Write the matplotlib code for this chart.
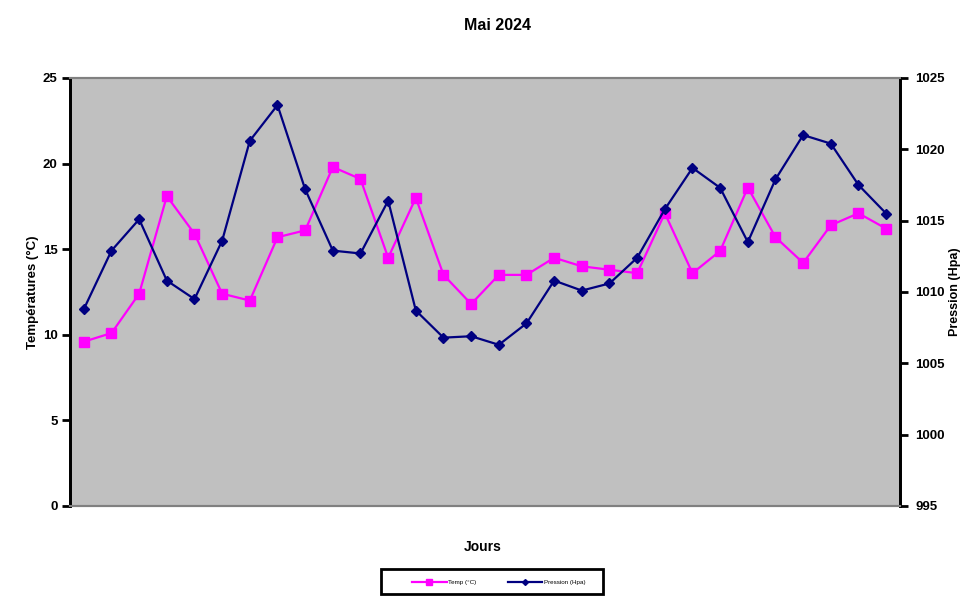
import matplotlib
matplotlib.use("Agg")
import matplotlib.pyplot as plt
from matplotlib.patches import Rectangle

plt.rcParams['font.family'] = ['Liberation Sans', 'DejaVu Sans']

days = list(range(1, 31))
temp = [9.6, 10.1, 12.4, 18.1, 15.9, 12.4, 12.0, 15.7, 16.1, 19.8,
        19.1, 14.5, 18.0, 13.5, 11.8, 13.5, 13.5, 14.5, 14.0, 13.8,
        13.6, 17.1, 13.6, 14.9, 18.6, 15.7, 14.2, 16.4, 17.1, 16.2]
pression = [1008.8, 1012.9, 1015.1, 1010.8, 1009.5, 1013.6, 1020.6, 1023.1, 1017.2, 1012.9,
            1012.7, 1016.4, 1008.7, 1006.8, 1006.9, 1006.3, 1007.8, 1010.8, 1010.1, 1010.6,
            1012.4, 1015.8, 1018.7, 1017.3, 1013.5, 1017.9, 1021.0, 1020.4, 1017.5, 1015.5]
temp_ticks = [0, 5, 10, 15, 20, 25]
pres_ticks = [995, 1000, 1005, 1010, 1015, 1020, 1025]

W, H = 970, 603
fig = plt.figure(figsize=(W / 100, H / 100), dpi=100)
fig.patch.set_facecolor('white')
ax = fig.add_axes([70 / W, 1 - 506 / H, 830 / W, 428 / H])
ax.set_facecolor('#C0C0C0')
ax2 = ax.twinx()
ax2.patch.set_visible(False)

ax.plot(days, temp, color='#FF00FF', lw=1.6, marker='s', markersize=7,
        markeredgecolor='#FF00FF', label='Temp (°C)')
ax2.plot(days, pression, color='#000080', lw=1.6, marker='D', markersize=5,
         markeredgecolor='#000080', label='Pression (Hpa)')

ax.set_xlim(0.5, 30.5)
ax.set_ylim(0, 25)
ax2.set_ylim(995, 1025)
ax.set_yticks(temp_ticks)
ax2.set_yticks(pres_ticks)
ax.set_xticks([])

for a in (ax, ax2):
    for s in ('top', 'bottom'):
        a.spines[s].set_color('#808080')
        a.spines[s].set_linewidth(1.5)
    a.spines['left'].set_color('black')
    a.spines['right'].set_color('black')
    a.spines['left'].set_linewidth(2)
    a.spines['right'].set_linewidth(2)

ax.tick_params(axis='y', direction='out', length=6, width=2, pad=3, labelsize=9.5)
ax2.tick_params(axis='y', direction='out', length=6, width=2, pad=5, labelsize=9.5)
for lbl in ax.get_yticklabels() + ax2.get_yticklabels():
    lbl.set_fontweight('bold')

ax.set_ylabel('Températures (°C)', fontsize=9.5, fontweight='bold', labelpad=3)
ax2.set_ylabel('Pression (Hpa)', fontsize=9, fontweight='bold', labelpad=3)
fig.text(483 / W, 1 - 547 / H, 'Jours', ha='center', va='center', fontsize=10, fontweight='bold')
fig.text(498 / W, 1 - 26 / H, 'Mai 2024', ha='center', va='center', fontsize=11.5, fontweight='bold')

fig.patches.append(Rectangle((381 / W, 1 - 594 / H), 222 / W, 25 / H, transform=fig.transFigure,
                             fill=False, edgecolor='black', lw=2))
h1, l1 = ax.get_legend_handles_labels()
h2, l2 = ax2.get_legend_handles_labels()
fig.legend(h1 + h2, l1 + l2, loc='center', bbox_to_anchor=(499 / W, 1 - 582 / H), ncol=2,
           frameon=False, fontsize=4.5, handlelength=5.5, columnspacing=5, markerscale=0.6,
           handletextpad=0.3)

fig.savefig('out.png', dpi=100)
